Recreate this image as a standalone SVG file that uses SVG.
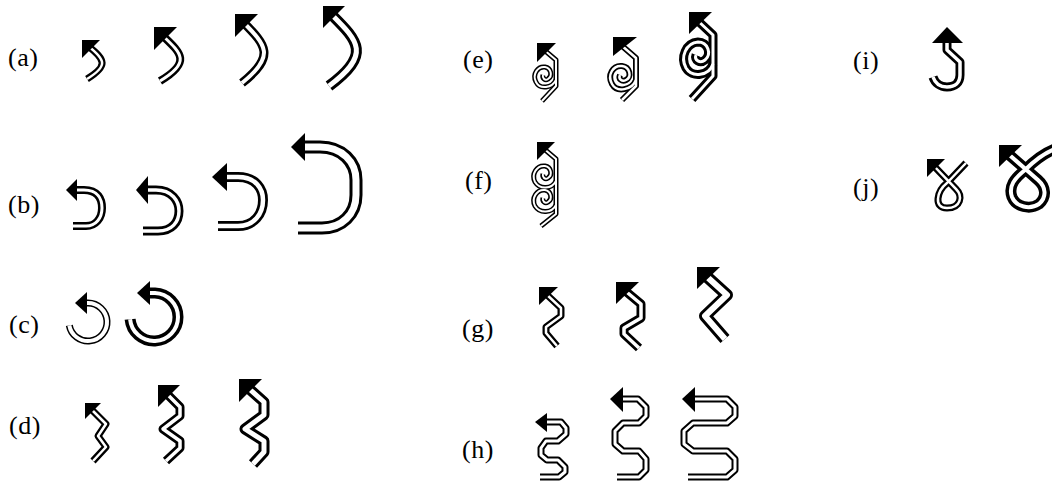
<svg xmlns="http://www.w3.org/2000/svg" xmlns:xlink="http://www.w3.org/1999/xlink" width="1052" height="482" viewBox="0 0 1052 482">
<style>
.k{fill:none;stroke:#000;stroke-linejoin:round;stroke-linecap:butt}
.w{fill:none;stroke:#fff;stroke-linejoin:round;stroke-linecap:butt}
.h{fill:#000}
.l{font-family:"Liberation Serif","Times New Roman",serif;font-size:26px;fill:#000;letter-spacing:0.5px}
</style>
<defs>
<path id="pa1" d="M 87 79 C 108 66, 106 60, 88 46"/>
<path id="pa2" d="M 160 81 C 192 62, 181 53, 162 35"/>
<path id="pa3" d="M 242 83 C 276 56, 266 45, 243 22"/>
<path id="pa4" d="M 329 86 C 372 54, 358 41, 331 14"/>
<path id="pb1" d="M 74 190 L 84 190 C 98 190, 102 199, 102 208 C 102 218, 96 226, 86 226 L 73 226"/>
<path id="pb2" d="M 145 190 L 156 190 C 172 190, 179 201, 179 211 C 179 222, 172 231, 158 231 L 143 231"/>
<path id="pb3" d="M 224 177 L 238 177 C 256 177, 263 189, 263 200 C 263 214, 254 226, 238 226 L 218 226"/>
<path id="pb4" d="M 302 147 L 320 147 C 342 147, 356 162, 356 180 L 356 195 C 356 214, 342 228, 322 228 L 298 228"/>
<path id="pc1" d="M 69.3 325.3 A 19 19 0 1 0 88 303 L 86 303"/>
<path id="pc2" d="M 130.1 319.2 A 24 24 0 1 0 155 293 L 148 293"/>
<path id="pd1" d="M 90 408 L 106 424 L 98 436 L 106 447 L 93 461"/>
<path id="pd2" d="M 165 392 L 180 407 L 180 416 L 163 429 L 180 441 L 180 448 L 166 461"/>
<path id="pd3" d="M 247 387 L 264 402 L 264 415 L 245 429 L 264 441 L 264 452 L 253 464"/>
<path id="pe1" d="M 543 49 L 556 60 L 556 86 L 542 101"/>
<path id="pe1s" d="M 556 80 C 552 88, 540 90, 536 82 C 532 74, 538 66, 545 67 C 551 68, 553 76, 548 79 C 545 81, 542 78, 543 75"/>
<path id="pe2" d="M 621 45 L 636 58 L 636 86 L 622 100"/>
<path id="pe2s" d="M 636 80 C 632 90, 617 93, 612 84 C 607 75, 613 65, 622 66 C 630 67, 632 77, 626 80 C 622 82, 618 79, 620 75"/>
<path id="pe3" d="M 697 20 L 713 35 L 713 76 L 692 99"/>
<path id="pe3s" d="M 713 64 C 709 76, 692 78, 686 68 C 680 57, 686 43, 698 42 C 708 42, 712 54, 705 60 C 700 64, 694 60, 696 55"/>
<path id="pf" d="M 543 148 L 556 159 L 556 214 L 541 226"/>
<path id="pfs1" d="M 556 181 C 552 189, 540 190, 535 182 C 531 174, 537 165, 545 166 C 551 167, 553 175, 548 178 C 545 180, 542 177, 543 174"/>
<path id="pfs2" d="M 556 205 C 552 213, 540 214, 535 206 C 531 198, 537 189, 545 190 C 551 191, 553 199, 548 202 C 545 204, 542 201, 543 198"/>
<path id="pg1" d="M 545 293 L 561 308 L 561 316 L 546 327 L 546 333 L 557 346"/>
<path id="pg2" d="M 623 289 L 641 304 L 641 318 L 624 328 L 624 334 L 639 348"/>
<path id="pg3" d="M 705 275 L 727 295 L 705 316 L 725 339"/>
<path id="ph1" d="M 545 422 L 561 422 L 566 428 L 566 434 L 558 441 L 546 441 L 541 448 L 541 455 L 547 460 L 558 460 L 565 467 L 565 472 L 559 477 L 540 477"/>
<path id="ph2" d="M 621 399 L 638 399 L 646 407 L 646 416 L 639 423 L 623 423 L 615 431 L 615 444 L 623 451 L 639 451 L 646 459 L 646 470 L 639 477 L 617 477"/>
<path id="ph3" d="M 693 399 L 727 399 L 735 407 L 735 416 L 727 423 L 693 423 L 684 431 L 684 444 L 693 451 L 727 451 L 735 459 L 735 470 L 727 477 L 688 477"/>
<path id="pi" d="M 947 40 L 947 50 L 960 62 L 960 75 C 960 83, 955 87, 947 87 C 940 87, 935 83, 933 77"/>
<path id="pj1" d="M 966 163 L 947 183 C 937 191, 933 208, 947 208 C 961 208, 963 196, 956 189 L 933 165"/>
<path id="pj2" d="M 1058 148 C 1045 152, 1035 160, 1025 170 C 1015 178, 1008 186, 1012 197 C 1016 207, 1030 210, 1039 204 C 1047 197, 1046 187, 1038 180 L 1006 152"/>
</defs>

<g id="labels">
<text class="l" x="8" y="66">(a)</text>
<text class="l" x="8" y="213">(b)</text>
<text class="l" x="9" y="333">(c)</text>
<text class="l" x="9" y="434">(d)</text>
<text class="l" x="463" y="68">(e)</text>
<text class="l" x="465" y="189">(f)</text>
<text class="l" x="462" y="337">(g)</text>
<text class="l" x="462" y="458">(h)</text>
<text class="l" x="853" y="69">(i)</text>
<text class="l" x="853" y="196">(j)</text>
</g>

<g id="a1"><use xlink:href="#pa1" class="k" style="stroke-width:7"/><use xlink:href="#pa1" class="w" style="stroke-width:2.5"/><polygon class="h" points="82,40 100,40 82,58"/></g>
<g id="a2"><use xlink:href="#pa2" class="k" style="stroke-width:8"/><use xlink:href="#pa2" class="w" style="stroke-width:3"/><polygon class="h" points="154,27 177,27 154,50"/></g>
<g id="a3"><use xlink:href="#pa3" class="k" style="stroke-width:9"/><use xlink:href="#pa3" class="w" style="stroke-width:4"/><polygon class="h" points="235,14 258,14 235,37"/></g>
<g id="a4"><use xlink:href="#pa4" class="k" style="stroke-width:11"/><use xlink:href="#pa4" class="w" style="stroke-width:5"/><polygon class="h" points="323,6 345,6 323,28"/></g>

<g id="b1"><use xlink:href="#pb1" class="k" style="stroke-width:8"/><use xlink:href="#pb1" class="w" style="stroke-width:3"/><polygon class="h" points="66,190 77,179 77,201"/></g>
<g id="b2"><use xlink:href="#pb2" class="k" style="stroke-width:9"/><use xlink:href="#pb2" class="w" style="stroke-width:3.5"/><polygon class="h" points="136,190 148,176 148,204"/></g>
<g id="b3"><use xlink:href="#pb3" class="k" style="stroke-width:10"/><use xlink:href="#pb3" class="w" style="stroke-width:4.5"/><polygon class="h" points="212,177 227,163 227,191"/></g>
<g id="b4"><use xlink:href="#pb4" class="k" style="stroke-width:13"/><use xlink:href="#pb4" class="w" style="stroke-width:7"/><polygon class="h" points="291,147 305,133 305,161"/></g>

<g id="c1"><use xlink:href="#pc1" class="k" style="stroke-width:7"/><use xlink:href="#pc1" class="w" style="stroke-width:4"/><polygon class="h" points="75,303 87,292 87,314"/></g>
<g id="c2"><use xlink:href="#pc2" class="k" style="stroke-width:11"/><use xlink:href="#pc2" class="w" style="stroke-width:4"/><polygon class="h" points="137,293 150,281 150,305"/></g>

<g id="d1"><use xlink:href="#pd1" class="k" style="stroke-width:7"/><use xlink:href="#pd1" class="w" style="stroke-width:2.5"/><polygon class="h" points="85,403 101,403 85,419"/></g>
<g id="d2"><use xlink:href="#pd2" class="k" style="stroke-width:9"/><use xlink:href="#pd2" class="w" style="stroke-width:3.5"/><polygon class="h" points="158,385 180,385 158,407"/></g>
<g id="d3"><use xlink:href="#pd3" class="k" style="stroke-width:11"/><use xlink:href="#pd3" class="w" style="stroke-width:5"/><polygon class="h" points="239,379 262,379 239,402"/></g>

<g id="e1"><use xlink:href="#pe1" class="k" style="stroke-width:5"/><use xlink:href="#pe1s" class="k" style="stroke-width:5"/><use xlink:href="#pe1" class="w" style="stroke-width:2"/><use xlink:href="#pe1s" class="w" style="stroke-width:2"/><polygon class="h" points="537,43 556,43 537,62"/></g>
<g id="e2"><use xlink:href="#pe2" class="k" style="stroke-width:6"/><use xlink:href="#pe2s" class="k" style="stroke-width:6"/><use xlink:href="#pe2" class="w" style="stroke-width:2.5"/><use xlink:href="#pe2s" class="w" style="stroke-width:2.5"/><polygon class="h" points="613,37 637,37 613,56"/></g>
<g id="e3"><use xlink:href="#pe3" class="k" style="stroke-width:9"/><use xlink:href="#pe3s" class="k" style="stroke-width:9"/><use xlink:href="#pe3" class="w" style="stroke-width:3"/><use xlink:href="#pe3s" class="w" style="stroke-width:3"/><polygon class="h" points="689,12 712,12 689,34"/></g>

<g id="f"><use xlink:href="#pf" class="k" style="stroke-width:5"/><use xlink:href="#pfs1" class="k" style="stroke-width:5"/><use xlink:href="#pfs2" class="k" style="stroke-width:5"/><use xlink:href="#pf" class="w" style="stroke-width:2"/><use xlink:href="#pfs1" class="w" style="stroke-width:2"/><use xlink:href="#pfs2" class="w" style="stroke-width:2"/><polygon class="h" points="537,142 555,142 537,160"/></g>

<g id="g1"><use xlink:href="#pg1" class="k" style="stroke-width:7"/><use xlink:href="#pg1" class="w" style="stroke-width:2.5"/><polygon class="h" points="539,287 558,287 539,305"/></g>
<g id="g2"><use xlink:href="#pg2" class="k" style="stroke-width:9"/><use xlink:href="#pg2" class="w" style="stroke-width:3.5"/><polygon class="h" points="616,282 639,282 616,304"/></g>
<g id="g3"><use xlink:href="#pg3" class="k" style="stroke-width:12"/><use xlink:href="#pg3" class="w" style="stroke-width:6"/><polygon class="h" points="697,267 720,267 697,289"/></g>

<g id="h1"><use xlink:href="#ph1" class="k" style="stroke-width:7"/><use xlink:href="#ph1" class="w" style="stroke-width:3"/><polygon class="h" points="535,422 547,413 547,432"/></g>
<g id="h2"><use xlink:href="#ph2" class="k" style="stroke-width:7"/><use xlink:href="#ph2" class="w" style="stroke-width:3"/><polygon class="h" points="610,399 623,387 623,412"/></g>
<g id="h3"><use xlink:href="#ph3" class="k" style="stroke-width:7"/><use xlink:href="#ph3" class="w" style="stroke-width:3"/><polygon class="h" points="682,399 695,387 695,412"/></g>

<g id="i"><use xlink:href="#pi" class="k" style="stroke-width:9"/><use xlink:href="#pi" class="w" style="stroke-width:3.5"/><polygon class="h" points="947,27 932,43 963,43"/></g>

<g id="j1"><use xlink:href="#pj1" class="k" style="stroke-width:7"/><use xlink:href="#pj1" class="w" style="stroke-width:2.5"/><polygon class="h" points="927,159 945,159 927,177"/></g>
<g id="j2"><use xlink:href="#pj2" class="k" style="stroke-width:11"/><use xlink:href="#pj2" class="w" style="stroke-width:4"/><polygon class="h" points="999,145 1022,145 999,167"/></g>
</svg>
